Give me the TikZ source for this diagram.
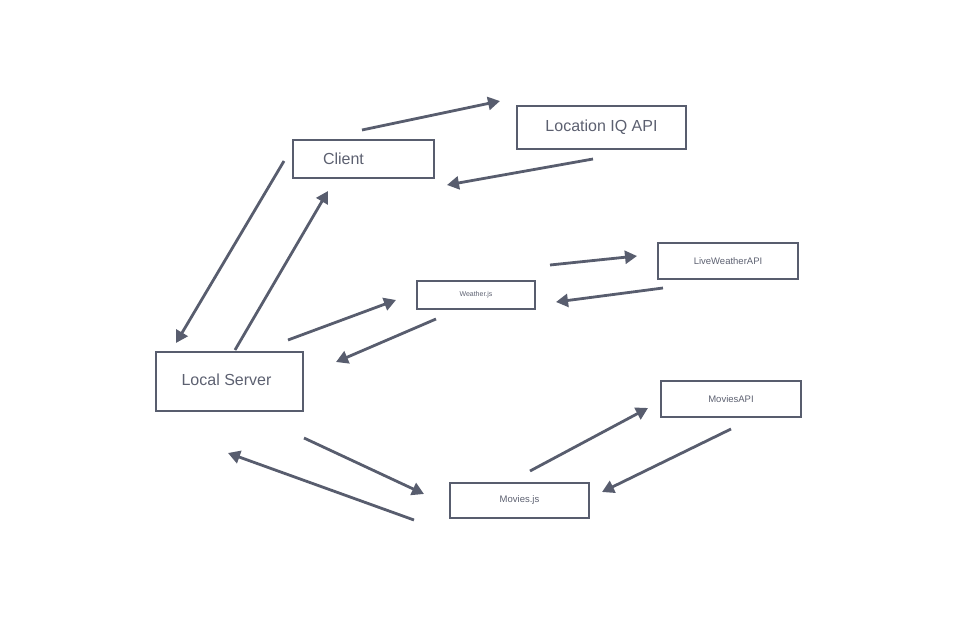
\documentclass[tikz,border=0pt]{standalone}
\usepackage{fontspec}
\setmainfont{Liberation Sans}
\usetikzlibrary{arrows.meta}
\definecolor{slate}{HTML}{585D6E}
\definecolor{slatetext}{HTML}{5C6070}
\begin{document}
\begin{tikzpicture}[x=1pt,y=-1pt,
	box/.style={draw=slate,line width=2.4pt,rectangle,inner sep=0pt,text=slatetext},
	flow/.style={draw=slate,line width=2.8pt,-{Triangle[length=12pt,width=13pt]}}]
	\useasboundingbox (0,0) rectangle (958,623);

	%boxes
	\node [box,minimum width=141pt,minimum height=38pt,font=\fontsize{16}{18}\selectfont,
		label={[xshift=-20pt,text=slatetext,font=\fontsize{16}{18}\selectfont]center:Client}] (client) at (363.5,159) {};
	\node [box,minimum width=169pt,minimum height=43pt,font=\fontsize{16}{18}\selectfont] (locapi) at (601.5,127.5) {Location IQ API};
	\node [box,minimum width=147pt,minimum height=59pt,font=\fontsize{16}{18}\selectfont,
		label={[xshift=-3pt,yshift=2pt,text=slatetext,font=\fontsize{16}{18}\selectfont]center:Local Server}] (server) at (229.5,381.5) {};
	\node [box,minimum width=118pt,minimum height=28pt,font=\fontsize{7}{8}\selectfont] (weather) at (476,295) {Weather.js};
	\node [box,minimum width=140pt,minimum height=36pt,font=\fontsize{9.5}{11}\selectfont] (liveapi) at (728,261) {LiveWeatherAPI};
	\node [box,minimum width=140pt,minimum height=36pt,font=\fontsize{9.5}{11}\selectfont] (movapi) at (731,399) {MoviesAPI};
	\node [box,minimum width=139pt,minimum height=35pt,font=\fontsize{9.5}{11}\selectfont] (movies) at (519.5,500.5) {Movies.js};

	%arrow ends
	\coordinate (a1) at (362,130);  \coordinate (b1) at (500,101);
	\coordinate (a2) at (593,159);  \coordinate (b2) at (447,185);
	\coordinate (a3) at (284,161);  \coordinate (b3) at (176,343);
	\coordinate (a4) at (235,350);  \coordinate (b4) at (328,191);
	\coordinate (a5) at (288,340);  \coordinate (b5) at (396,300);
	\coordinate (a6) at (436,319);  \coordinate (b6) at (336,362);
	\coordinate (a7) at (550,265);  \coordinate (b7) at (637,256);
	\coordinate (a8) at (663,288);  \coordinate (b8) at (556,302);
	\coordinate (a9) at (304,438);  \coordinate (b9) at (424,494);
	\coordinate (a10) at (414,520); \coordinate (b10) at (228,453);
	\coordinate (a11) at (530,471); \coordinate (b11) at (648,408);
	\coordinate (a12) at (731,429); \coordinate (b12) at (602,492);

	%arrows
	\foreach \i in {1,...,12}
		\draw[flow] (a\i) -- (b\i);
\end{tikzpicture}
\end{document}
